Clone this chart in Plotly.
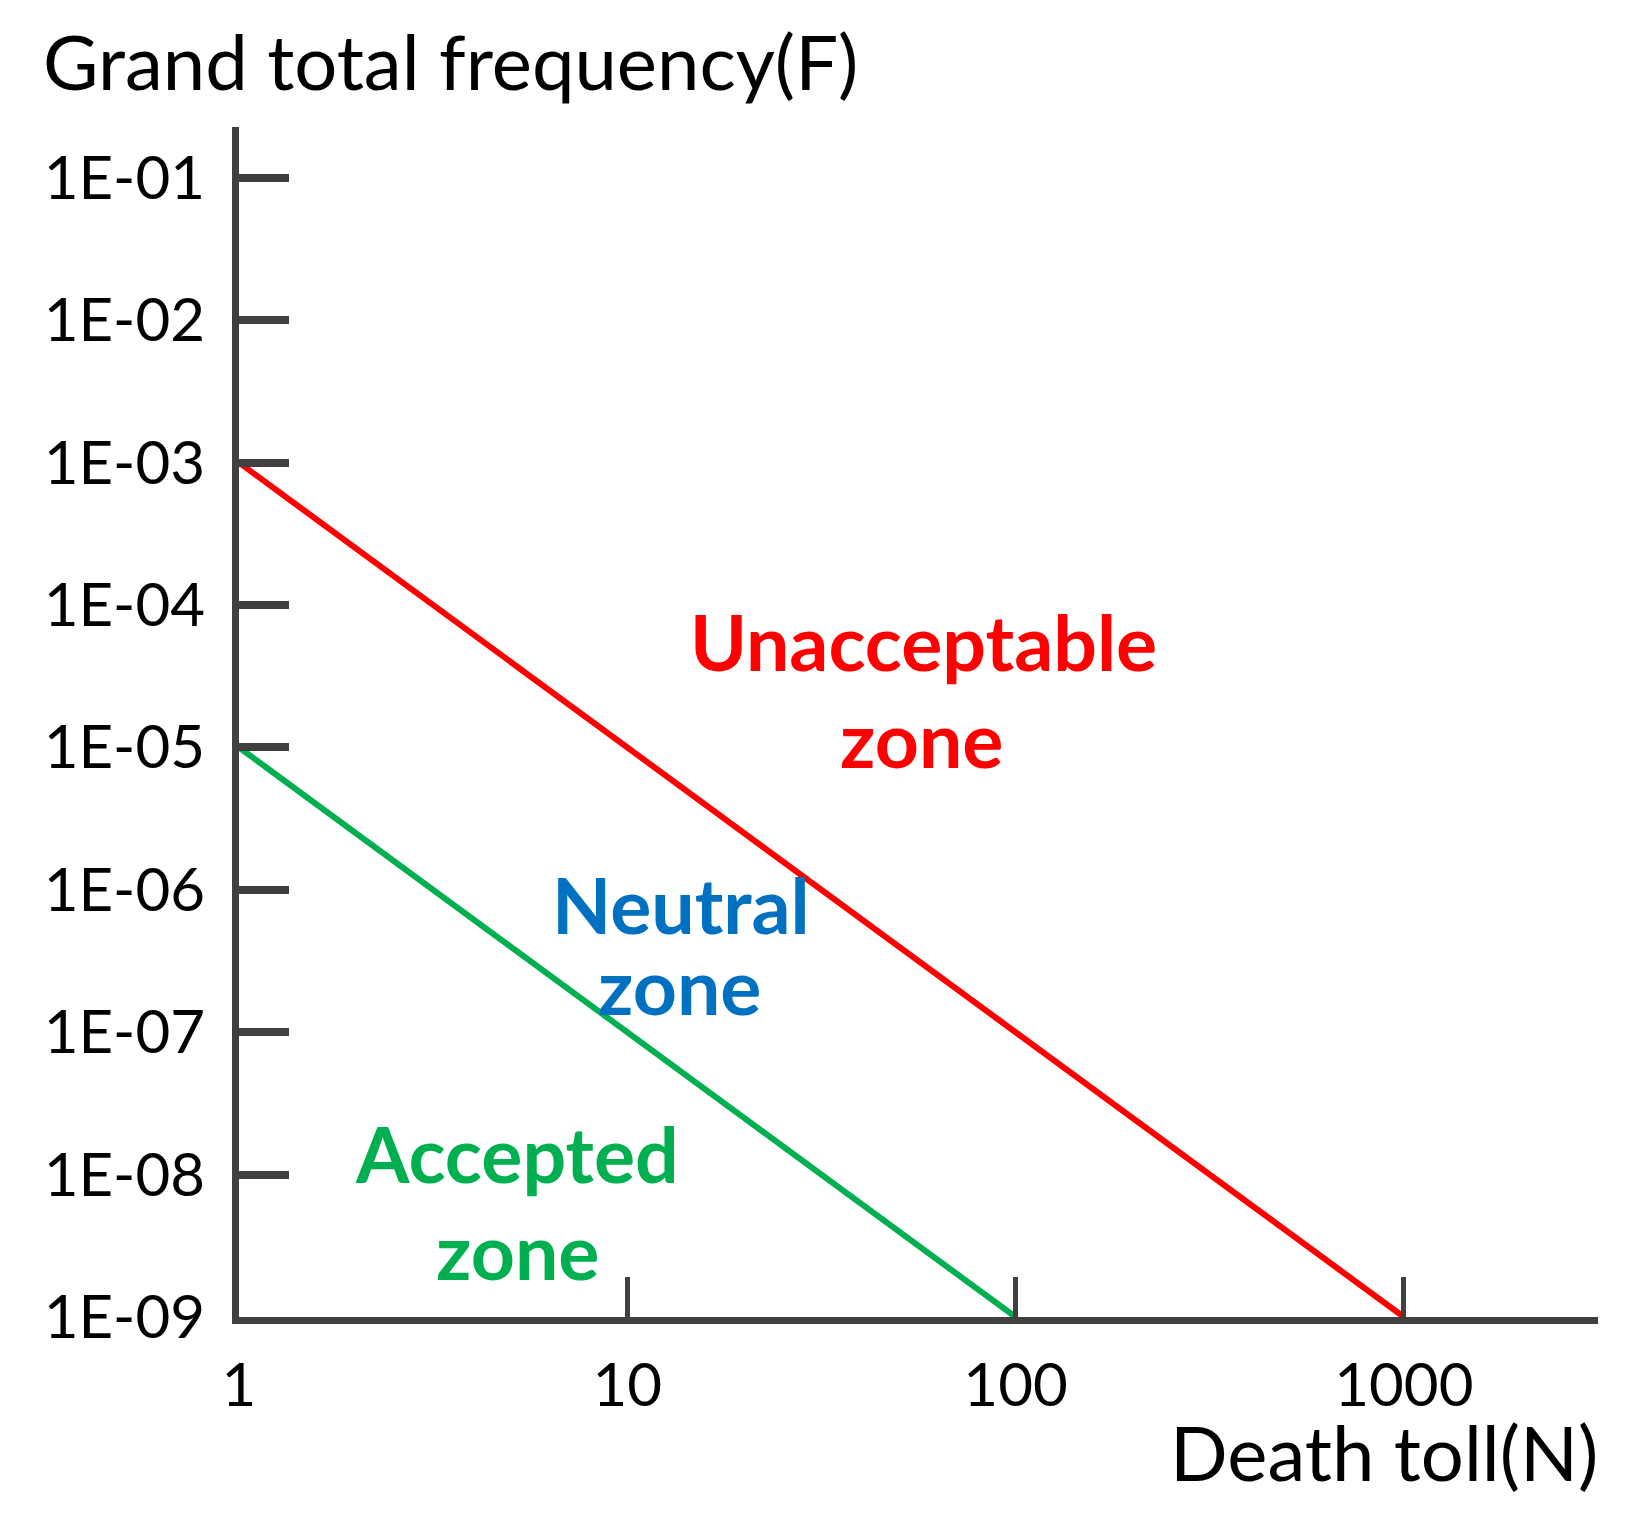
import plotly.graph_objects as go

# F-N curve limits
red_x = [1, 1000]
red_y = [1e-3, 1e-9]
green_x = [1, 100]
green_y = [1e-5, 1e-9]

x_ticks = [1, 10, 100, 1000]
x_ticktext = ["1", "10", "100", "1000"]
y_ticks = [1e-1, 1e-2, 1e-3, 1e-4, 1e-5, 1e-6, 1e-7, 1e-8, 1e-9]
y_ticktext = ["1E-01", "1E-02", "1E-03", "1E-04", "1E-05", "1E-06", "1E-07", "1E-08", "1E-09"]

AXIS = "#404040"
FONT = "Lato"

fig = go.Figure()
fig.add_trace(go.Scatter(x=red_x, y=red_y, mode="lines",
                         line=dict(color="#FF0000", width=6), hoverinfo="skip"))
fig.add_trace(go.Scatter(x=green_x, y=green_y, mode="lines",
                         line=dict(color="#00B050", width=6), hoverinfo="skip"))

zones = [
    ("Unacceptable", 1.762, -4.250, "#FF0000"),
    ("zone", 1.759, -4.937, "#FF0000"),
    ("Neutral", 1.138, -6.100, "#0070C0"),
    ("zone", 1.135, -6.667, "#0070C0"),
    ("Accepted", 0.716, -7.851, "#00B050"),
    ("zone", 0.716, -8.531, "#00B050"),
]
for txt, x, y, col in zones:
    fig.add_annotation(x=x, y=y, xref="x", yref="y", text=txt, showarrow=False,
                       xanchor="center", yanchor="middle",
                       font=dict(family=FONT, size=77, color=col, weight="bold"))

fig.add_annotation(x=1.0015, y=-0.113, xref="paper", yref="paper",
                   text="Death toll(N)", showarrow=False,
                   xanchor="right", yanchor="middle",
                   font=dict(family=FONT, size=76, color="black"))

fig.update_layout(
    width=1637, height=1531,
    margin=dict(l=231, r=47, t=119, b=222),
    paper_bgcolor="white", plot_bgcolor="white",
    showlegend=False,
    font=dict(family=FONT, color="black"),
    title=dict(text="Grand total frequency(F)", x=35 / 1637, xanchor="left",
               xref="container", y=1 - 55 / 1531, yanchor="middle", yref="container",
               font=dict(family=FONT, size=76, color="black")),
)
fig.update_xaxes(
    type="log", range=[0, 3.5],
    showgrid=False, zeroline=False,
    showline=True, linecolor=AXIS, linewidth=7,
    ticks="inside", ticklen=40, tickwidth=5, tickcolor=AXIS,
    tickvals=x_ticks, ticktext=x_ticktext,
    tickfont=dict(family=FONT, size=60, color="black"),
    ticklabelstandoff=10,
)
fig.update_yaxes(
    type="log", range=[-9, -0.643],
    showgrid=False, zeroline=False,
    showline=True, linecolor=AXIS, linewidth=7,
    ticks="inside", ticklen=50, tickwidth=8, tickcolor=AXIS,
    tickvals=y_ticks, ticktext=y_ticktext,
    tickfont=dict(family=FONT, size=60, color="black"),
    ticklabelstandoff=15,
)

fig.write_html("out.html")
